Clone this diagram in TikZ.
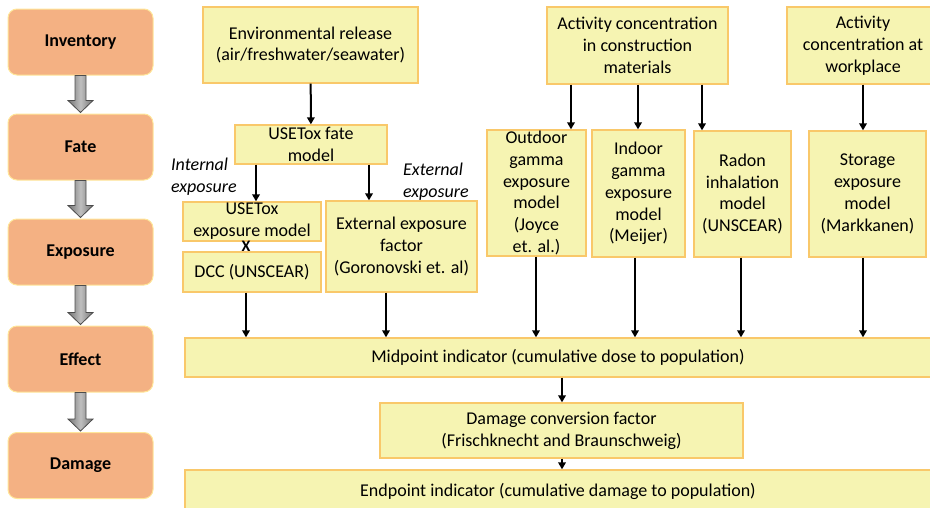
\documentclass[tikz,border=0pt]{standalone}
\usepackage{fontspec}
\setmainfont{Carlito}
\usetikzlibrary{arrows.meta,calc}
\definecolor{stagefill}{HTML}{F4B183}
\definecolor{stageline}{HTML}{FFE699}
\definecolor{boxfill}{HTML}{F6F4B2}
\definecolor{boxline}{HTML}{F9C86A}
\begin{document}
\begin{tikzpicture}[x=1pt,y=-1pt,
  every node/.style={font=\fontsize{18}{21.8}\selectfont, inner sep=0pt, align=center},
  stage/.style={draw=stageline, fill=stagefill, rounded corners=9pt, line width=1pt,
    minimum width=145pt, minimum height=66pt, font=\fontsize{18}{21}\selectfont\bfseries},
  ybox/.style={draw=boxline, fill=boxfill, line width=1.3pt},
  arr/.style={line width=2pt, -{Triangle[length=7pt,width=7.5pt]}},
  note/.style={font=\fontsize{18}{21.8}\selectfont\itshape, align=left, anchor=west},
  fatarr/.style={draw=black!70, line width=0.8pt, left color=black!55, right color=black!55, middle color=black!25}
]
\useasboundingbox (0,0) rectangle (930,507);
\clip (0,0) rectangle (930,507);

% stages of the impact chain
\node[stage] (inv) at (80.5,42)    {Inventory};
\node[stage] (fat) at (80.5,147)   {Fate};
\node[stage] (exp) at (80.5,252)   {Exposure};
\node[stage] (eff) at (80.5,359)   {Effect};
\node[stage] (dam) at (80.5,465.5) {Damage};

\foreach \a/\b in {inv/fat, fat/exp, exp/eff, eff/dam}{
  \path (\a.south) coordinate (s) (\b.north) coordinate (t);
  \draw[fatarr] ($(s)+(-5.5,0)$) -- ($(s)+(5.5,0)$) -- ($(t)+(5.5,-13)$) -- ($(t)+(12.5,-13)$)
     -- ($(t)+(0,-1)$) -- ($(t)+(-12.5,-13)$) -- ($(t)+(-5.5,-13)$) -- cycle;
}

% release pathway
\node[ybox, minimum width=215pt, minimum height=76pt] (env) at (310.5,45) {Environmental release\\(air/freshwater/seawater)};
\node[ybox, minimum width=152pt, minimum height=39pt] (fate) at (311,144.5) {USETox fate\\model};
\node[ybox, minimum width=138pt, minimum height=39pt] (uexp) at (252,221.5) {USETox\\exposure model};
\node[ybox, minimum width=138pt, minimum height=40pt] (dcc) at (252,272) {DCC (UNSCEAR)};
\node[ybox, minimum width=151pt, minimum height=91pt] (extf) at (401.5,246.5) {External exposure\\factor\\(Goronovski et. al)};
\node[font=\fontsize{16}{18}\selectfont\bfseries] (times) at (246,246.5) {X};
\node[note] (intl) at (171,177) {Internal\\exposure};
\node[note] (extl) at (403,182) {External\\exposure};

% construction materials and workplace
\node[ybox, minimum width=181pt, minimum height=77pt] (act) at (637.5,45.5) {Activity concentration\\in construction\\materials};
\node[ybox, minimum width=152pt, minimum height=77pt] (work) at (863,45.5) {Activity\\concentration at\\workplace};
\node[ybox, minimum width=99pt, minimum height=126pt] (outd) at (536.5,193) {Outdoor\\gamma\\exposure\\model\\(Joyce\\et. al.)};
\node[ybox, minimum width=93pt, minimum height=127pt] (ind) at (638.5,193.5) {Indoor\\gamma\\exposure\\model\\(Meijer)};
\node[ybox, minimum width=97pt, minimum height=126pt] (rad) at (742.5,194) {Radon\\inhalation\\model\\(UNSCEAR)};
\node[ybox, minimum width=117pt, minimum height=126pt] (sto) at (867.5,194) {Storage\\exposure\\model\\(Markkanen)};

% indicators
\node[ybox, minimum width=746pt, minimum height=39pt] (mid) at (558,357.5) {Midpoint indicator (cumulative dose to population)};
\node[ybox, minimum width=363pt, minimum height=55pt] (dcf) at (561.5,430.5) {Damage conversion factor\\(Frischknecht and Braunschweig)};
\node[ybox, minimum width=746pt, minimum height=42pt] (endp) at (558,491) {Endpoint indicator (cumulative damage to population)};

% connectors
\draw[arr] (env) -- (fate);
\draw[arr] (fate.south -| 256,0) -- (uexp.north -| 256,0);
\draw[arr] (fate.south -| 369,0) -- (extf.north -| 369,0);
\draw[arr] (act.south -| 571,0) -- (outd.north -| 571,0);
\draw[arr] (act.south -| 638,0) -- (ind.north -| 638,0);
\draw[arr] (act.south -| 702,0) -- (rad.north -| 702,0);
\draw[arr] (work.south -| 863,0) -- (sto.north -| 863,0);

\draw[arr] (dcc.south -| 246,0) -- (mid.north -| 246,0);
\draw[arr] (extf.south -| 386,0) -- (mid.north -| 386,0);
\draw[arr] (outd.south -| 536,0) -- (mid.north -| 536,0);
\draw[arr] (ind.south -| 635,0) -- (mid.north -| 635,0);
\draw[arr] (rad.south -| 741,0) -- (mid.north -| 741,0);
\draw[arr] (sto.south -| 863,0) -- (mid.north -| 863,0);

\draw[arr] (mid.south -| 562,0) -- (dcf.north -| 562,0);
\draw[arr] (dcf.south -| 562,0) -- (endp.north -| 562,0);
\end{tikzpicture}
\end{document}
